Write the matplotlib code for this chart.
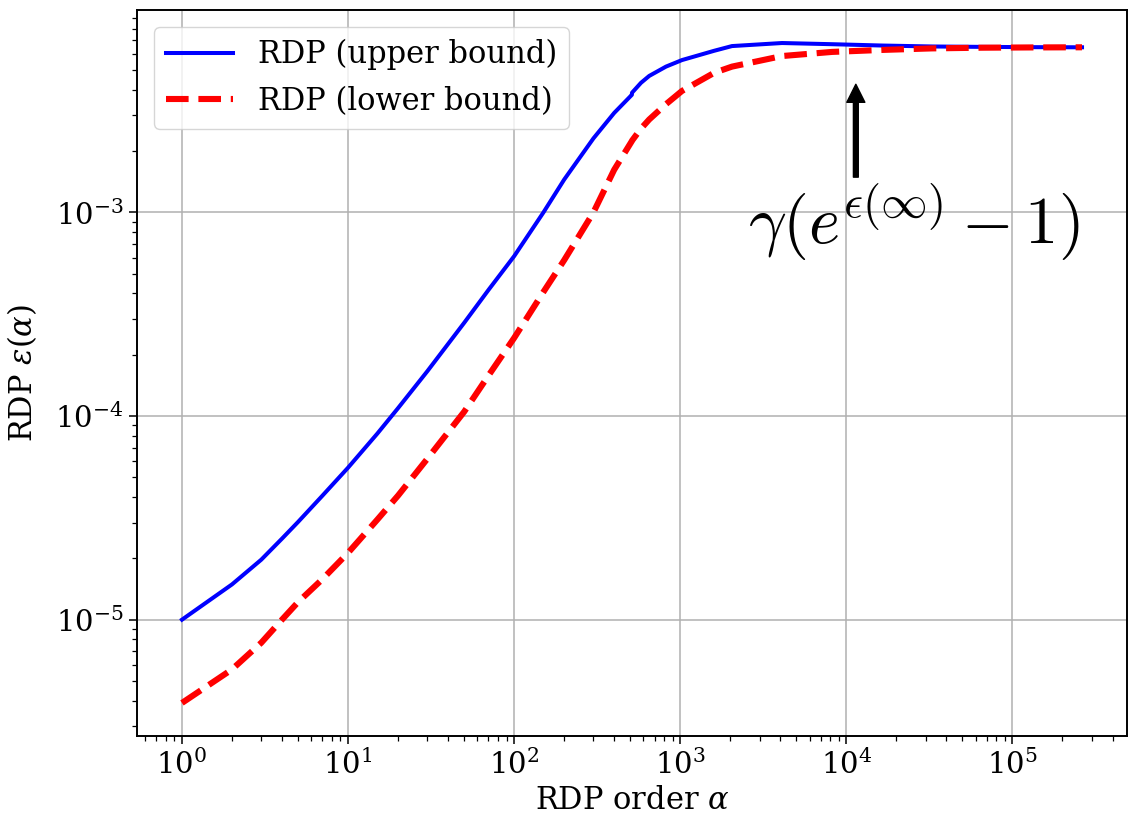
import numpy as np
import matplotlib
matplotlib.use("Agg")
import matplotlib.pyplot as plt

plt.rcParams['font.family'] = 'serif'
plt.rcParams['font.serif'] = ['DejaVu Serif']
plt.rcParams['mathtext.fontset'] = 'dejavuserif'

# RDP orders and the two bounds at those orders
alphas = [1, 2, 3, 4, 5, 7, 10, 15, 20, 30, 50, 70, 100, 150, 200, 300, 400,
          511, 512, 580, 650, 820, 1024, 1600, 2048, 4096, 8192, 16384,
          32768, 65536, 131072, 262144]
rdp_upper = [1.0e-5, 1.49e-5, 1.97e-5, 2.5e-5, 3.02e-5, 4.06e-5, 5.58e-5,
             8.2e-5, 1.094e-4, 1.66e-4, 2.87e-4, 4.16e-4, 6.1e-4, 1.0e-3,
             1.45e-3, 2.31e-3, 3.08e-3, 3.78e-3, 3.87e-3, 4.33e-3, 4.68e-3,
             5.2e-3, 5.6e-3, 6.22e-3, 6.56e-3, 6.79e-3, 6.70e-3, 6.6e-3,
             6.53e-3, 6.5e-3, 6.48e-3, 6.47e-3]
rdp_lower = [3.9e-6, 5.7e-6, 7.7e-6, 1.0e-5, 1.22e-5, 1.58e-5, 2.13e-5,
             3.1e-5, 4.07e-5, 6.17e-5, 1.05e-4, 1.58e-4, 2.42e-4, 4.07e-4,
             5.83e-4, 1.0e-3, 1.62e-3, 2.24e-3, 2.25e-3, 2.58e-3, 2.86e-3,
             3.4e-3, 3.95e-3, 4.85e-3, 5.2e-3, 5.86e-3, 6.14e-3, 6.28e-3,
             6.39e-3, 6.44e-3, 6.46e-3, 6.47e-3]

fig = plt.figure(figsize=(11.32, 8.15), dpi=100)
ax = fig.add_axes([0.121, 0.097, 0.8746, 0.8907])

ax.loglog(alphas, rdp_upper, '-', color='blue', lw=2.9, label='RDP (upper bound)')
ax.loglog(alphas, rdp_lower, '--', color='red', lw=4.4, label='RDP (lower bound)')

ax.grid(True, which='major', color='#b0b0b0', lw=1.1)
ax.tick_params(labelsize=21, width=1.1, length=6)
ax.tick_params(which='minor', width=0.9, length=3.5)
for sp in ax.spines.values():
    sp.set_linewidth(1.4)

ax.set_xlabel(r'RDP order $\alpha$', fontsize=22)
ax.set_ylabel(r'RDP $\varepsilon(\alpha)$', fontsize=22, labelpad=12)
ax.legend(loc='upper left', fontsize=22, handlelength=2.2, borderaxespad=0.55)

# limit value of the upper bound
ax.annotate('', xy=(1.14e4, 4.26e-3), xytext=(1.14e4, 1.49e-3),
            arrowprops=dict(facecolor='black', edgecolor='black', width=3.5,
                            headwidth=13, headlength=13, shrink=0.0))
ax.text(2570, 6.97e-4, r'$\gamma(e^{\epsilon(\infty)}-1)$', fontsize=48,
        math_fontfamily='cm', ha='left', va='baseline')

fig.savefig('out.png', dpi=100)
